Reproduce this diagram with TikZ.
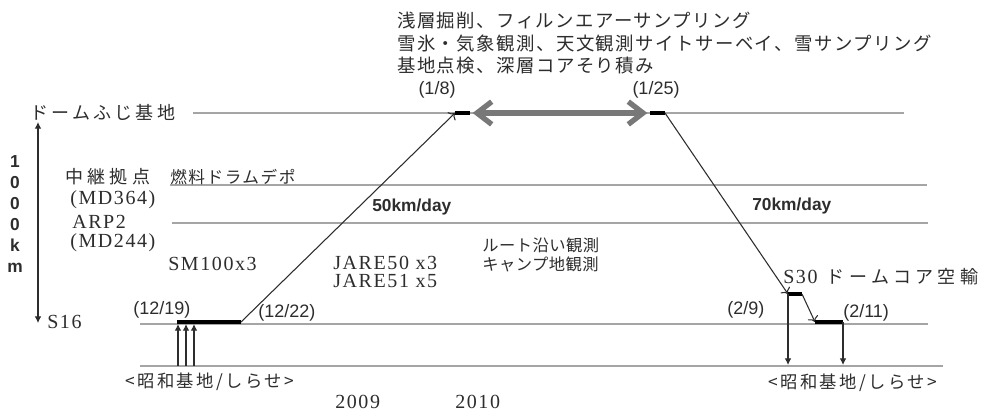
\documentclass[tikz,border=0pt]{standalone}
\usepackage{fontspec}
\setmainfont{Liberation Serif}
\newfontfamily\jp{Noto Sans CJK JP}
\newfontfamily\jpw{Noto Sans CJK JP}[LetterSpace=24]
\newfontfamily\jpd{Noto Sans CJK JP}[LetterSpace=18]
\newfontfamily\jpm{Noto Sans CJK JP}[LetterSpace=3]
\newfontfamily\jps{Noto Sans CJK JP}[LetterSpace=14]
\newfontfamily\jpf{Noto Sans CJK JP}[LetterSpace=9]
\newfontfamily\jpt{Noto Sans CJK JP}[LetterSpace=8]
\newfontfamily\rmw{Liberation Serif}[LetterSpace=8]
\newfontfamily\sa{Liberation Sans}
\usetikzlibrary{arrows.meta}
\definecolor{guide}{RGB}{165,165,165}
\definecolor{ink}{RGB}{45,45,45}
\definecolor{dbl}{RGB}{120,120,120}
\tikzset{
  lbl/.style={inner sep=0pt, text=ink, anchor=west},
  jpwide/.style={lbl, font=\jpw\fontsize{13.5}{16}\selectfont},
  jpdome/.style={lbl, font=\jpd\fontsize{13.5}{16}\selectfont},
  jpmid/.style={lbl, font=\jpm\fontsize{12.2}{14}\selectfont},
  jpfuel/.style={lbl, font=\jpf\fontsize{12.5}{14}\selectfont},
  jptop/.style={lbl, font=\jpt\fontsize{13.8}{16}\selectfont},
  jpshowa/.style={lbl, font=\jps\fontsize{13}{15}\selectfont},
  serifw/.style={lbl, font=\rmw\fontsize{15}{17}\selectfont},
  sanslbl/.style={lbl, font=\sa\fontsize{13.5}{16}\selectfont},
  speed/.style={lbl, font=\sa\bfseries\fontsize{13}{16}\selectfont},
  guideline/.style={draw=guide, line width=1.3pt},
  stay/.style={draw=black, line width=2.4pt},
  smallarr/.style={draw=ink, line width=0.8pt, -{Latex[length=5pt,width=5pt]}},
  openarr/.style={draw=ink, line width=0.8pt, -{To[length=4pt]}}
}
\begin{document}
\begin{tikzpicture}[x=0.75pt, y=-0.75pt]
\useasboundingbox[fill=white] (0,0) rectangle (984,411);

% guide lines
\coordinate (dfL) at (193,113); \coordinate (dfR) at (904,113);
\coordinate (fuL) at (170,185); \coordinate (fuR) at (927,185);
\coordinate (arL) at (172,223); \coordinate (arR) at (928,223);
\coordinate (sL) at (140,324);  \coordinate (sR) at (928,324);
\coordinate (bL) at (140,366);  \coordinate (bR) at (943,366);
\draw[guideline] (dfL) -- (dfR);
\draw[guideline] (fuL) -- (fuR);
\draw[guideline] (arL) -- (arR);
\draw[guideline] (sL) -- (sR);
\draw[guideline] (bL) -- (bR);

% vertical axis
\coordinate (axT) at (38,122); \coordinate (axB) at (38,323);
\draw[draw=ink, line width=0.8pt, {Latex[length=5pt,width=5pt]}-{Latex[length=5pt,width=5pt]}] (axT) -- (axB);
\node[inner sep=0pt, text=ink, align=center, font=\sa\bfseries\fontsize{13}{15.75}\selectfont] (km) at (15,214) {1\\0\\0\\0\\k\\m};

% route points
\coordinate (a1) at (177,322); \coordinate (a2) at (241,322);
\coordinate (b1) at (455,113); \coordinate (b2) at (470,113);
\coordinate (c1) at (650,113); \coordinate (c2) at (665,113);
\coordinate (d1) at (788,294); \coordinate (d2) at (802,294);
\coordinate (e1) at (815,322); \coordinate (e2) at (843,322);
\coordinate (d3) at (788,365); \coordinate (e3) at (843,365);
\coordinate (u1b) at (178,366); \coordinate (u1t) at (178,324);
\coordinate (u2b) at (186,366); \coordinate (u2t) at (186,324);
\coordinate (u3b) at (194,366); \coordinate (u3t) at (194,324);

\draw[smallarr] (u1b) -- (u1t);
\draw[smallarr] (u2b) -- (u2t);
\draw[smallarr] (u3b) -- (u3t);
\draw[stay] (a1) -- (a2);
\draw[openarr] (a2) -- (b1);
\draw[stay] (b1) -- (b2);
\draw[draw=dbl, line width=4pt, {Straight Barb[length=11pt,width=17pt]}-{Straight Barb[length=11pt,width=17pt]}] ([xshift=2]b2) -- ([xshift=-2]c1);
\draw[stay] (c1) -- (c2);
\draw[openarr] (c2) -- (d1);
\draw[stay] (d1) -- (d2);
\draw[openarr] (d2) -- (e1);
\draw[stay] (e1) -- (e2);
\draw[smallarr] (d1) -- (d3);
\draw[smallarr] (e2) -- (e3);

% labels
\node[jpdome] (dome) at (30,112) {ドームふじ基地};
\node[jpwide] (chukei) at (65,177) {中継拠点};
\node[serifw] (md364) at (70,200) {(MD364)};
\node[serifw] (arp2) at (72,222) {ARP2};
\node[serifw] (md244) at (70,243) {(MD244)};
\node[jpfuel] (fuel) at (170,177) {燃料ドラムデポ};
\node[serifw] (sm100) at (168,264) {SM100x3};
\node[serifw] (s16) at (47,322) {S16};

\node[jptop] (t1) at (397,21) {浅層掘削、フィルンエアーサンプリング};
\node[jptop] (t2) at (397,44) {雪氷・気象観測、天文観測サイトサーベイ、雪サンプリング};
\node[jptop] (t3) at (397,66) {基地点検、深層コアそり積み};

\node[sanslbl, anchor=center] (d18) at (437,90) {(1/8)};
\node[sanslbl, anchor=center] (d125) at (656,90) {(1/25)};

\node[speed] (v50) at (372,207) {50km/day};
\node[speed] (v70) at (752,206) {70km/day};

\node[jpmid] (route) at (482,245) {ルート沿い観測};
\node[jpmid] (camp) at (482,264) {キャンプ地観測};
\node[serifw] (j50) at (333,263) {JARE50 x3};
\node[serifw] (j51) at (333,281) {JARE51 x5};

\node[lbl] (s30) at (783,277) {\rmw\fontsize{15}{17}\selectfont S30\hspace{7pt}\jpw\fontsize{13.5}{16}\selectfont ドームコア空輸};

\node[sanslbl] (d29) at (727,310) {(2/9)};
\node[sanslbl] (d211) at (843,313) {(2/11)};
\node[sanslbl] (d1219) at (133,310) {(12/19)};
\node[sanslbl] (d1222) at (258,313) {(12/22)};

\node[jpshowa] (showaL) at (125,382) {<昭和基地/しらせ>};
\node[jpshowa] (showaR) at (768,383) {<昭和基地/しらせ>};

\node[serifw] (y2009) at (335,402) {2009};
\node[serifw] (y2010) at (455,402) {2010};
\end{tikzpicture}
\end{document}
